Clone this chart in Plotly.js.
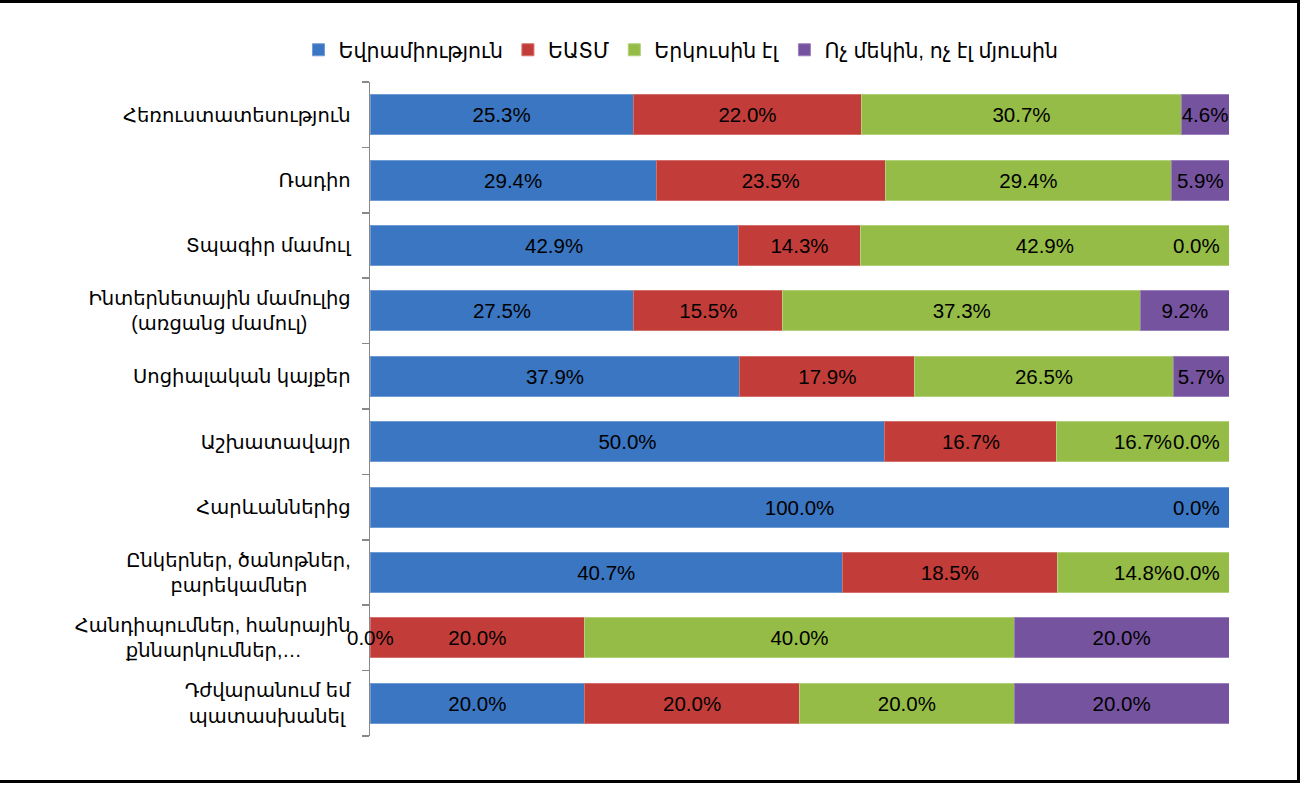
<!DOCTYPE html>
<html><head><meta charset="utf-8">
<script src="https://cdn.plot.ly/plotly-3.0.1.min.js"></script>
<style>
html,body{margin:0;padding:0;background:#fff;overflow:hidden;}
#frame{position:absolute;left:-10px;top:0;width:1310px;height:783px;border:3px solid #000;box-sizing:border-box;background:#fff;}
#chart{width:1304px;height:777px;}
</style></head><body>
<div id="frame"><div id="chart"></div></div>
<script>
// ---- data ----
const categories = [
  'Հեռուստատեսություն',
  'Ռադիո',
  'Տպագիր մամուլ',
  'Ինտերնետային մամուլից<br>(առցանց մամուլ)',
  'Սոցիալական կայքեր',
  'Աշխատավայր',
  'Հարևաններից',
  'Ընկերներ, ծանոթներ,<br>բարեկամներ',
  'Հանդիպումներ, հանրային<br>քննարկումներ,…',
  'Դժվարանում եմ<br>պատասխանել'
];
const seriesNames = ['Եվրամիություն', 'ԵԱՏՄ', 'Երկուսին էլ', 'Ոչ մեկին, ոչ էլ մյուսին'];
const euValues      = [25.3, 29.4, 42.9, 27.5, 37.9, 50.0, 100.0, 40.7, 0.0, 20.0];
const eaeuValues    = [22.0, 23.5, 14.3, 15.5, 17.9, 16.7, 0.0, 18.5, 20.0, 20.0];
const bothValues    = [30.7, 29.4, 42.9, 37.3, 26.5, 16.7, 0.0, 14.8, 40.0, 20.0];
const neitherValues = [4.6, 5.9, 0.0, 9.2, 5.7, 0.0, 0.0, 0.0, 20.0, 20.0];

// ---- styling ----
const FONT = "'Liberation Sans', 'Noto Sans', 'DejaVu Sans', sans-serif";
const FS = 20.5;
const TICK_FS = 19.5;
const colors = ['#3A76C2', '#C23D39', '#95BC46', '#75539F'];
const lineColors = ['#6F9AD3', '#D4706C', '#B3D17A', '#9A80BC'];
const seriesValues = [euValues, eaeuValues, bothValues, neitherValues];

// center multi-line tick labels (right-anchored) by padding with nbsp
const cv = document.createElement('canvas').getContext('2d');
cv.font = TICK_FS + 'px ' + FONT;
const nbspW = cv.measureText('\u00A0').width || TICK_FS * 0.3;
function centerLines(label) {
  const lines = label.split('<br>');
  if (lines.length < 2) return label;
  const widths = lines.map(l => cv.measureText(l).width);
  const maxW = Math.max(...widths);
  return lines.map((l, i) => {
    const n = Math.round((maxW - widths[i]) / 2 / nbspW);
    return l + '\u00A0'.repeat(n);
  }).join('<br>');
}
const tickText = categories.map(centerLines);

const fmt = v => v.toFixed(1) + '%';

const traces = seriesNames.map((name, s) => ({
  type: 'bar',
  orientation: 'h',
  name: name,
  y: categories,
  x: seriesValues[s],
  text: seriesValues[s].map(fmt),
  textposition: 'inside',
  insidetextanchor: 'middle',
  constraintext: 'none',
  textangle: 0,
  textfont: {family: FONT, size: FS, color: '#000'},
  insidetextfont: {family: FONT, size: FS, color: '#000'},
  marker: {color: colors[s], line: {color: lineColors[s], width: 1}},
  hoverinfo: 'skip'
}));

// labels for zero-width segments (not drawn by bar text); one per position
const annotations = [];
categories.forEach((cat, i) => {
  const total = seriesValues.reduce((a, arr) => a + arr[i], 0);
  let cum = 0;
  const seen = new Set();
  seriesValues.forEach((arr, s) => {
    const v = arr[i];
    cum += v;
    if (v === 0) {
      const pos = cum / total * 100;
      const key = pos.toFixed(3);
      if (seen.has(key)) return;
      seen.add(key);
      const atEnd = pos >= 99.99;
      annotations.push({
        x: pos, y: cat, xref: 'x', yref: 'y',
        text: fmt(v), showarrow: false,
        xanchor: atEnd ? 'right' : 'center',
        xshift: atEnd ? -7 : 0,
        font: {family: FONT, size: FS, color: '#000'}
      });
    }
  });
});

const layout = {
  width: 1304, height: 777,
  margin: {l: 377, r: 68, t: 79, b: 44, pad: 0},
  paper_bgcolor: '#fff', plot_bgcolor: '#fff',
  barmode: 'stack', barnorm: 'percent', bargap: 0.39,
  font: {family: FONT, size: FS, color: '#000'},
  showlegend: true,
  legend: {
    orientation: 'h', x: 0.362, xanchor: 'center', y: 1.049, yanchor: 'middle',
    traceorder: 'normal', font: {family: FONT, size: FS, color: '#000'},
    itemwidth: 30, bgcolor: 'rgba(0,0,0,0)'
  },
  xaxis: {range: [0, 100], visible: false, fixedrange: true},
  yaxis: {
    type: 'category', autorange: 'reversed',
    tickvals: categories, ticktext: tickText,
    tickson: 'boundaries', ticks: 'outside', ticklen: 7, tickwidth: 1.5, tickcolor: '#888',
    showline: true, linecolor: '#888', linewidth: 1.5,
    showgrid: false, zeroline: false,
    ticklabelstandoff: 14,
    tickfont: {family: FONT, size: TICK_FS, color: '#000'}
  },
  annotations: annotations
};

Plotly.newPlot('chart', traces, layout, {displayModeBar: false, staticPlot: true});
</script>
</body></html>
